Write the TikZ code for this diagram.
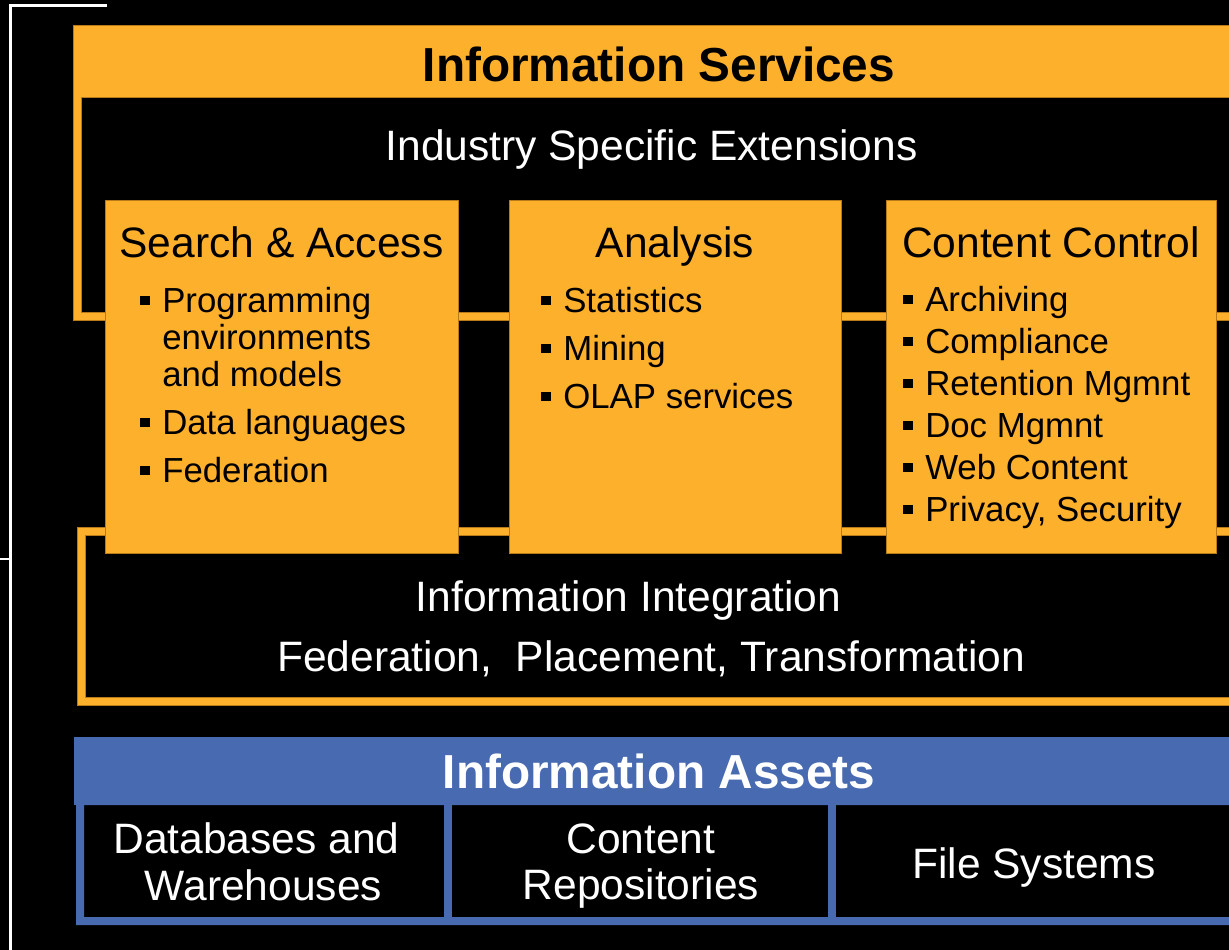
\documentclass[tikz,border=0pt]{standalone}
\usepackage{fontspec}
\setmainfont{Liberation Sans}
\definecolor{ibmorange}{RGB}{253,176,44}
\definecolor{ibmedge}{RGB}{185,122,25}
\definecolor{ibmblue}{RGB}{72,106,176}
\newcommand{\bsq}{\rule[5.25pt]{7pt}{7pt}\hspace{9.5pt}}
\begin{document}
\begin{tikzpicture}[x=0.75pt,y=-0.75pt,
  orangefill/.style={fill=ibmorange, draw=ibmedge, line width=0.5pt},
  panelbox/.style={orangefill, inner sep=0pt, outer sep=0pt, minimum height=264.75pt},
  whiteline/.style={draw=white, line width=1.7pt},
  titletext/.style={font=\fontsize{35.8}{40}\selectfont\bfseries, inner sep=0pt, anchor=base},
  headtext/.style={font=\fontsize{31.9}{36}\selectfont, inner sep=0pt, anchor=base},
  itemtext/.style={font=\fontsize{26.1}{30}\selectfont, inner sep=0pt, anchor=base west}
]
\useasboundingbox (0,0) rectangle (1229,950);
\clip (0,0) rectangle (1229,950);
\fill[black] (0,0) rectangle (1229,950);

% white corner lines
\draw[whiteline] (10.5,951) -- (10.5,5.5) -- (107,5.5);
\draw[whiteline, line width=1.5pt] (0,558.5) -- (10.5,558.5);

% Information Services frame
\filldraw[orangefill, even odd rule] (73,25) rectangle (1240,320) (81,97) rectangle (1240,312);
\node[titletext] (svc) at (659,81) {Information Services};
\node[headtext, text=white] (ind) at (651.5,160) {Industry Specific Extensions};

% Information Integration frame
\filldraw[orangefill, even odd rule] (77,527) rectangle (1240,705) (85,535) rectangle (1240,697);
\node[headtext, text=white] (integ) at (628.5,611) {Information Integration};
\node[headtext, text=white] (integsub) at (651,671) {Federation,\ \ Placement, Transformation};

% panels
\node[panelbox, minimum width=264.75pt] (search) at (281.5,376.5) {};
\node[panelbox, minimum width=249pt] (analysis) at (675,376.5) {};
\node[panelbox, minimum width=247.5pt] (content) at (1051,376.5) {};

\node[headtext] (searcht) at (281.5,257) {Search \& Access};
\node[headtext] (analysist) at (675,257) {Analysis};
\node[headtext] (contentt) at (1051,257) {Content Control};

\node[itemtext] (s1) at (140,312) {\bsq Programming};
\node[itemtext] (s1b) at (162,349) {environments};
\node[itemtext] (s1c) at (162,386) {and models};
\node[itemtext] (s2) at (140,434) {\bsq Data languages};
\node[itemtext] (s3) at (140,482) {\bsq Federation};

\node[itemtext] (a1) at (541,312) {\bsq Statistics};
\node[itemtext] (a2) at (541,360) {\bsq Mining};
\node[itemtext] (a3) at (541,408) {\bsq OLAP services};

\node[itemtext] (c1) at (903,311) {\bsq Archiving};
\node[itemtext] (c2) at (903,353) {\bsq Compliance};
\node[itemtext] (c3) at (903,395) {\bsq Retention Mgmnt};
\node[itemtext] (c4) at (903,437) {\bsq Doc Mgmnt};
\node[itemtext] (c5) at (903,479) {\bsq Web Content};
\node[itemtext] (c6) at (903,521) {\bsq Privacy, Security};

% Information Assets
\fill[ibmblue] (74,737) rectangle (1240,805);
\fill[ibmblue, even odd rule] (76,805) rectangle (1240,925) (84,805) rectangle (1240,917);
\fill[ibmblue] (444,805) rectangle (452,925);
\fill[ibmblue] (828,805) rectangle (836,925);
\node[titletext, text=white] (assets) at (659,788) {Information Assets};
\node[headtext, text=white] (db1) at (256.5,853) {Databases and};
\node[headtext, text=white] (db2) at (263.5,900) {Warehouses};
\node[headtext, text=white] (cr1) at (641,853) {Content};
\node[headtext, text=white] (cr2) at (641,899) {Repositories};
\node[headtext, text=white] (fs) at (1034,878) {File Systems};
\end{tikzpicture}
\end{document}
